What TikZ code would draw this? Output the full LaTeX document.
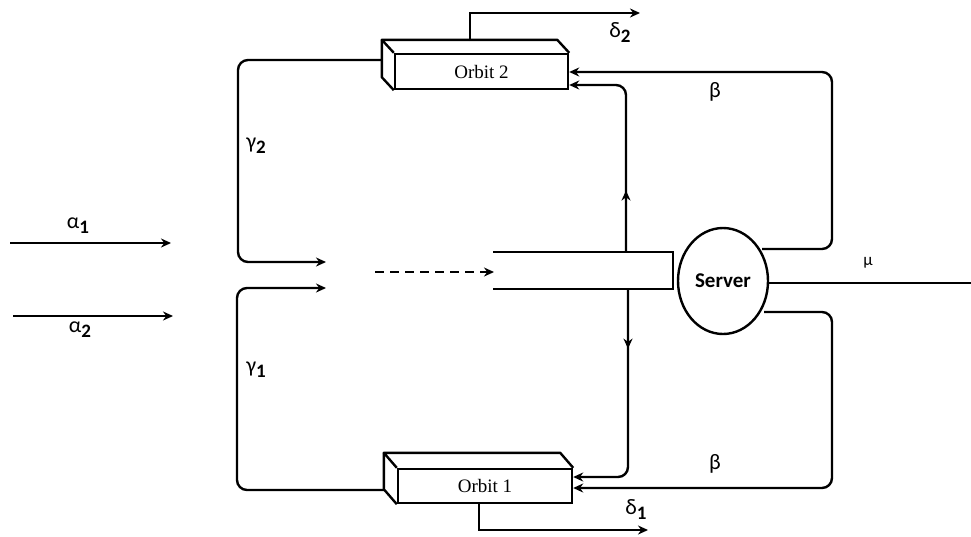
\documentclass[tikz,border=0pt]{standalone}
\usepackage{fontspec}
\setmainfont{Carlito}
\newfontfamily\orbfont{Liberation Serif}
\usetikzlibrary{arrows.meta,decorations.markings,shapes.geometric,calc}
\begin{document}
\begin{tikzpicture}[x=1pt,y=-1pt, line width=2.4pt,
  tip/.tip={Stealth[length=10pt,width=9pt]},
  arr/.style={-tip},
  midarr/.style={postaction={decorate},decoration={markings,mark=at position #1 with {\arrow{tip}}}},
  orbit/.style={draw, fill=white, inner sep=0pt, font=\orbfont\fontsize{19}{19}\selectfont},
  lbl/.style={font=\fontsize{22}{22}\selectfont, inner sep=0pt},
  rc/.style={rounded corners=10pt}]
\useasboundingbox (0,0) rectangle (971,536);
\newcommand{\sbs}[1]{\raisebox{-5pt}{\fontsize{19}{19}\selectfont\bfseries #1}}
% orbit boxes
\node[orbit, minimum width=173pt, minimum height=35pt] (o2) at (481.5,71.5) {Orbit 2};
\draw[line join=round] (o2.north west) -- ++(-12,-13) coordinate (o2bl) -- ($(o2.north east)+(-12,-13)$) -- (o2.north east);
\draw[line join=round] (o2bl) -- ($(o2.south west)+(-12,-13)$) -- (o2.south west);
\node[orbit, minimum width=174pt, minimum height=34pt] (o1) at (485,486) {Orbit 1};
\draw[line join=round] (o1.north west) -- ++(-13,-15) coordinate (o1bl) -- ($(o1.north east)+(-13,-15)$) -- (o1.north east);
\draw[line join=round] (o1bl) -- ($(o1.south west)+(-13,-15)$) -- (o1.south west);
% server
\node[draw, ellipse, minimum width=90pt, minimum height=106pt, inner sep=0pt, font=\bfseries\fontsize{21}{21}\selectfont] (srv) at (723,281) {Server};
\coordinate (su) at (762,249);
\coordinate (sd) at (764,312);
% queue
\coordinate (qtl) at (493,252);
\coordinate (qbl) at (493,289);
\draw (qtl) -- (673,252) -- (673,289) -- (qbl);
% free end coordinates
\coordinate (a1s) at (10,243); \coordinate (a1e) at (171,243);
\coordinate (a2s) at (13,316); \coordinate (a2e) at (173,316);
\coordinate (g2e) at (326,262);
\coordinate (g1e) at (326,288);
\coordinate (ds) at (375,272);
\coordinate (qe) at (494,272);
\coordinate (d2e) at (640,13);
\coordinate (d1e) at (648,530);
\coordinate (mue) at (971,283);
% arrivals
\draw[arr] (a1s) -- (a1e);
\draw[arr] (a2s) -- (a2e);
\node[lbl] at (78,226) {α\sbs{1}};
\node[lbl] at (80,330) {α\sbs{2}};
% retrial loops
\draw[arr, rc] (o2bl |- 0,60) -- (238,60) -- (238,262) -- (g2e);
\draw[arr, rc] (o1bl |- 0,490) -- (237,490) -- (237,288) -- (g1e);
\node[lbl] at (256,146) {γ\sbs{2}};
\node[lbl] at (256,370) {γ\sbs{1}};
% dashed
\draw[arr, dashed, dash pattern=on 9pt off 6pt] (ds) -- (qe);
% queue to orbits
\draw[arr, rc, midarr=0.28] (626,252) -- (626,85) -- (o2.east |- 0,85);
\draw[arr, rc, midarr=0.25] (628,289) -- (628,477) -- (o1.east |- 0,477);
% server outputs
\draw[arr, rc] (su) -- (832,249) -- (832,72) -- (o2.east |- 0,72);
\draw[arr, rc] (sd) -- (832,312) -- (832,488) -- (o1.east |- 0,488);
\draw (srv.east |- 0,283) -- (mue);
\node[lbl] at (715,92) {β};
\node[lbl] at (715,464) {β};
\node[lbl, font=\fontsize{17}{17}\selectfont] at (868,263) {μ};
% departures
\draw[arr] (470,41) -- (470,13) -- (d2e);
\draw[arr] (o1.south -| 479,0) -- (479,530) -- (d1e);
\node[lbl] at (620,33) {δ\sbs{2}};
\node[lbl] at (636,510) {δ\sbs{1}};
\end{tikzpicture}
\end{document}
